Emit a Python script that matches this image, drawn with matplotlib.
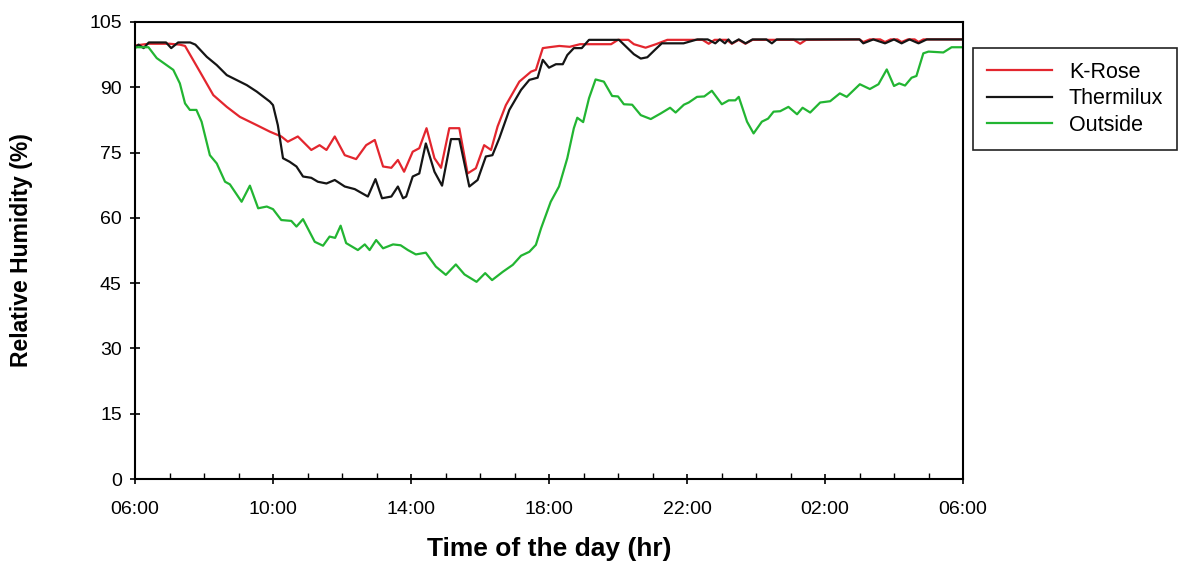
import matplotlib
matplotlib.use('Agg')
import matplotlib.pyplot as plt
from matplotlib.ticker import MultipleLocator

# hours after 06:00, relative humidity (%)
rose_h = [0.0, 0.4, 1.0, 1.3, 1.45, 1.88, 2.27, 2.66, 3.04, 3.53, 3.91, 4.24, 4.43, 4.72,
          5.11, 5.35, 5.55, 5.79, 6.08, 6.41, 6.70, 6.95, 7.19, 7.43, 7.62, 7.80, 8.05,
          8.24, 8.45, 8.68, 8.87, 9.11, 9.40, 9.64, 9.88, 10.12, 10.32, 10.51, 10.75,
          11.14, 11.48, 11.62, 11.82, 12.0, 12.3, 12.6, 12.9, 13.8, 14.0, 14.3, 14.46,
          14.80, 15.1, 15.43, 16.45, 16.63, 16.8, 17.15, 17.30, 17.5, 17.69, 17.9, 19.1,
          19.28, 19.45, 21.0, 21.11, 21.3, 21.6, 21.74, 21.9, 22.1, 22.22, 22.4, 22.6,
          22.71, 22.85, 24.0]
rose_v = [99.6, 100.0, 100.0, 99.8, 99.5, 93.6, 88.2, 85.5, 83.2, 81.3, 79.8, 78.7, 77.5, 78.7,
          75.6, 76.7, 75.6, 78.7, 74.4, 73.5, 76.7, 77.9, 71.8, 71.5, 73.3, 70.6, 75.2,
          76.0, 80.6, 73.7, 71.5, 80.6, 80.6, 70.2, 71.4, 76.7, 75.6, 81.0, 85.9,
          91.3, 93.6, 94.0, 99.0, 99.2, 99.5, 99.3, 99.9, 99.9, 100.9, 100.9, 99.9,
          99.1, 99.9, 100.9, 100.9, 100.0, 100.9, 100.9, 100.0, 100.9, 100.0, 100.9, 100.9,
          100.0, 100.9, 101.0, 100.4, 101.0, 101.0, 100.4, 101.0, 101.0, 100.4, 101.0, 101.0,
          100.4, 101.0, 101.0]

therm_h = [0.0, 0.1, 0.25, 0.4, 0.9, 1.05, 1.25, 1.6, 1.75, 2.08, 2.37, 2.66, 3.24, 3.53,
           3.91, 4.0, 4.14, 4.29, 4.48, 4.68, 4.87, 5.11, 5.30, 5.55, 5.79, 6.08, 6.37,
           6.75, 6.97, 7.16, 7.43, 7.62, 7.77, 7.86, 8.05, 8.24, 8.43, 8.68, 8.90, 9.16,
           9.40, 9.69, 9.93, 10.17, 10.36, 10.56, 10.85, 11.19, 11.43, 11.67, 11.82, 12.0,
           12.2, 12.4, 12.53, 12.72, 12.95, 13.16, 14.03, 14.46, 14.66, 14.85, 15.07, 15.27,
           15.9, 16.3, 16.6, 16.82, 16.95, 17.1, 17.2, 17.3, 17.5, 17.7, 17.9, 18.3, 18.46,
           18.6, 21.0, 21.11, 21.4, 21.74, 22.0, 22.22, 22.45, 22.71, 22.95, 24.0]
therm_v = [99.0, 99.8, 99.0, 100.3, 100.3, 99.0, 100.3, 100.3, 99.8, 97.0, 95.1, 92.8, 90.5, 89.0,
           86.7, 85.9, 81.3, 73.7, 72.9, 71.8, 69.5, 69.2, 68.3, 67.9, 68.7, 67.2, 66.6,
           64.9, 68.9, 64.5, 64.9, 67.2, 64.5, 64.9, 69.5, 70.2, 77.1, 70.6, 67.4, 78.1,
           78.1, 67.2, 68.7, 74.1, 74.4, 78.3, 84.8, 89.4, 91.7, 92.2, 96.3, 94.5,
           95.3, 95.3, 97.4, 99.0, 99.0, 100.9, 100.9, 97.6, 96.6, 96.9, 98.6, 100.1,
           100.1, 101.0, 101.0, 100.1, 101.0, 100.1, 101.0, 100.1, 101.0, 100.1, 101.0, 101.0, 100.1,
           101.0, 101.0, 100.1, 101.0, 100.1, 101.0, 100.1, 101.0, 100.1, 101.0, 101.0]

out_h = [0.0, 0.39, 0.63, 1.11, 1.30, 1.45, 1.59, 1.78, 1.93, 2.17, 2.37, 2.61, 2.75, 3.09,
         3.33, 3.57, 3.82, 4.0, 4.24, 4.53, 4.68, 4.87, 5.21, 5.45, 5.64, 5.80, 5.96, 6.12,
         6.46, 6.66, 6.80, 6.99, 7.19, 7.48, 7.70, 7.91, 8.14, 8.43, 8.72, 9.01, 9.30,
         9.55, 9.90, 10.15, 10.35, 10.66, 10.95, 11.19, 11.43, 11.62, 11.77, 12.05, 12.29,
         12.53, 12.72, 12.82, 12.99, 13.16, 13.35, 13.59, 13.83, 14.0, 14.17, 14.41, 14.66,
         14.95, 15.24, 15.51, 15.67, 15.91, 16.05, 16.29, 16.5, 16.72, 17.01, 17.21, 17.40,
         17.50, 17.74, 17.93, 18.17, 18.35, 18.51, 18.70, 18.94, 19.19, 19.35, 19.57, 19.86,
         20.15, 20.43, 20.63, 21.01, 21.30, 21.55, 21.79, 22.0, 22.15, 22.32, 22.51, 22.65,
         22.85, 23.0, 23.43, 23.67, 24.0]
out_v = [99.2, 99.2, 96.7, 94.0, 90.9, 86.3, 84.8, 84.8, 82.1, 74.4, 72.5, 68.3, 67.7, 63.7,
         67.4, 62.2, 62.6, 62.0, 59.5, 59.3, 58.0, 59.7, 54.5, 53.6, 55.7, 55.4, 58.2, 54.2,
         52.6, 53.9, 52.6, 54.9, 53.0, 53.9, 53.7, 52.6, 51.6, 52.0, 48.8, 46.9, 49.3,
         47.0, 45.3, 47.3, 45.7, 47.6, 49.2, 51.3, 52.2, 53.8, 57.6, 63.7, 67.2,
         73.7, 80.6, 83.0, 82.0, 87.5, 91.8, 91.3, 88.0, 87.9, 86.1, 86.0, 83.6,
         82.7, 84.0, 85.3, 84.2, 86.0, 86.5, 87.8, 87.9, 89.2, 86.1, 87.0, 87.0,
         87.8, 82.1, 79.4, 82.1, 82.8, 84.4, 84.5, 85.5, 83.8, 85.3, 84.2, 86.5,
         86.8, 88.6, 87.8, 90.7, 89.6, 90.7, 94.1, 90.3, 90.9, 90.4, 92.2, 92.6,
         97.8, 98.2, 98.0, 99.2, 99.2]

tick_labels = ['06:00', '10:00', '14:00', '18:00', '22:00', '02:00', '06:00']

plt.rcParams['font.family'] = ['Liberation Sans', 'DejaVu Sans']

fig = plt.figure(figsize=(11.92, 5.65), dpi=100)
ax = fig.add_axes([135 / 1192, 86 / 565, 828 / 1192, 457 / 565])

ax.plot(rose_h, rose_v, color='#e3262e', lw=1.6, label='K-Rose')
ax.plot(therm_h, therm_v, color='#151515', lw=1.6, label='Thermilux')
ax.plot(out_h, out_v, color='#22b532', lw=1.6, label='Outside')

ax.set_xlim(0, 24)
ax.set_ylim(0, 105)
ax.set_xticks(range(0, 25, 4))
ax.set_xticklabels(tick_labels)
ax.xaxis.set_minor_locator(MultipleLocator(1))
ax.set_yticks(range(0, 106, 15))

ax.tick_params(axis='both', which='major', labelsize=14, direction='inout', length=7,
               width=1.2, pad=6)
ax.tick_params(axis='x', which='minor', direction='in', length=4, width=1)
ax.tick_params(axis='x', which='major', pad=12)
for s in ax.spines.values():
    s.set_linewidth(1.5)

ax.set_xlabel('Time of the day (hr)', fontsize=19, fontweight='bold', va='center')
ax.xaxis.set_label_coords(0.5, (479 - 549) / 457)
ax.set_ylabel('Relative Humidity (%)', fontsize=16.5, fontweight='bold', va='center')
ax.yaxis.set_label_coords((22 - 135) / 828, 0.5)

leg = ax.legend(loc='upper left', bbox_to_anchor=(973 / 1192, 1 - 48 / 565),
                bbox_transform=fig.transFigure, borderaxespad=0, fancybox=False,
                framealpha=1, edgecolor='#222222', fontsize=15.5, handlelength=3.0,
                handletextpad=0.8, labelspacing=0.25, borderpad=0.65)
leg.get_frame().set_linewidth(1.2)

fig.savefig('out.png', dpi=100)
